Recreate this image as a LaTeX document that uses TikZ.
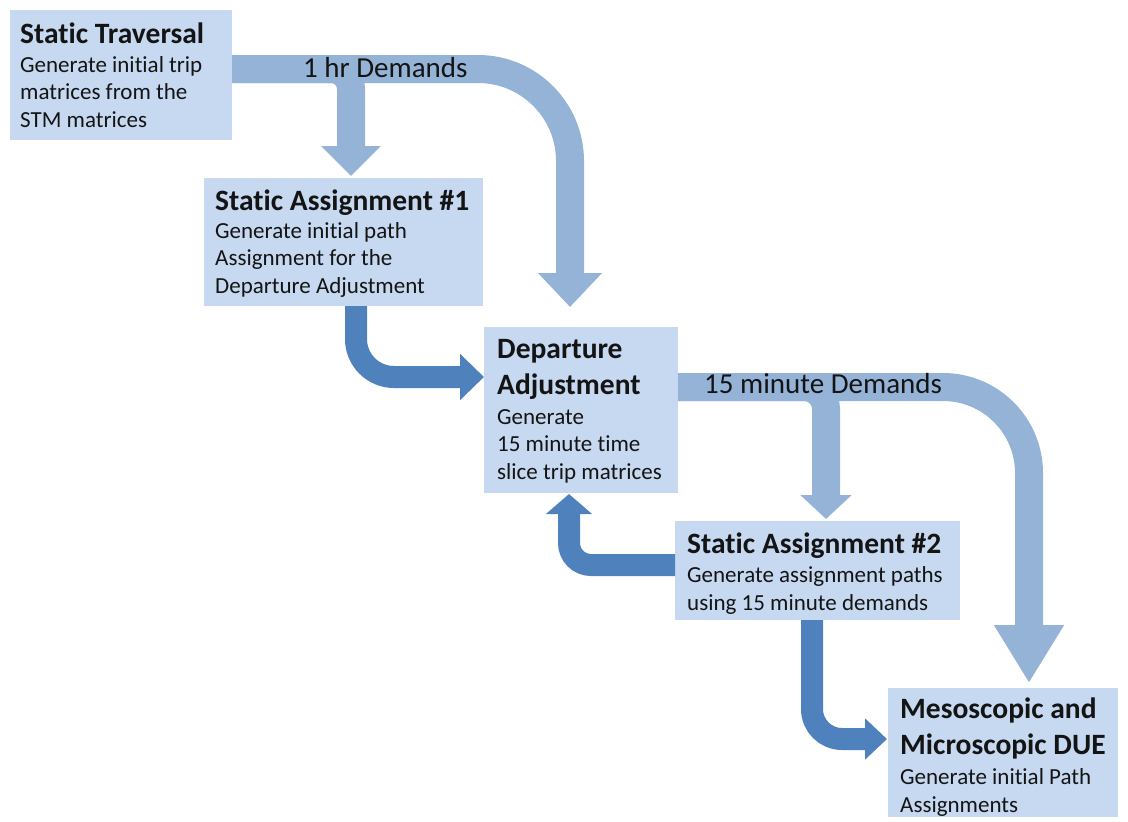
\documentclass[tikz,border=0pt]{standalone}
\usepackage{fontspec}
\setmainfont{Carlito}[Ligatures={NoCommon}]
\usetikzlibrary{arrows.meta}
\definecolor{boxfill}{HTML}{C6D9F1}
\definecolor{lightarr}{HTML}{95B3D7}
\definecolor{darkarr}{HTML}{4F81BD}
\definecolor{txt}{HTML}{141414}
\begin{document}
\begin{tikzpicture}[x=1pt,y=-1pt,
  box/.style={fill=boxfill, draw=none, anchor=north west, inner sep=0pt, outer sep=0pt},
  ttl/.style={anchor=base west, inner sep=0pt, align=left, font=\fontsize{29.5}{36}\selectfont\bfseries, text=txt},
  bdy/.style={anchor=base west, inner sep=0pt, align=left, font=\fontsize{23}{27.5}\selectfont, text=txt},
  lbl/.style={anchor=base west, inner sep=0pt, font=\fontsize{29}{34}\selectfont, text=txt},
  light/.style={draw=lightarr, line width=28pt},
  dark/.style={draw=darkarr, line width=22pt},
]
\useasboundingbox (0,0) rectangle (1128,822);
% boxes
\node[box, minimum width=222pt, minimum height=130pt] (b1) at (10,10) {};
\node[box, minimum width=279pt, minimum height=128pt] (b2) at (204,178) {};
\node[box, minimum width=194pt, minimum height=166pt] (b3) at (484,327) {};
\node[box, minimum width=285pt, minimum height=99pt] (b4) at (675,521) {};
\node[box, minimum width=230pt, minimum height=129pt] (b5) at (888,688) {};
% tip coordinates
\coordinate (h1) at (570,307);
\coordinate (h2) at (351,176);
\coordinate (h3) at (484,377);
\coordinate (h4) at (826,519);
\coordinate (h5) at (1029,683);
\coordinate (h6) at (569,494);
\coordinate (h7) at (887,739);
% light arrows
\draw[light, -{Triangle[width=62pt,length=34pt]}, rounded corners=92pt] ([yshift=6pt]b1.east) -| (h1);
\draw[light, -{Triangle[width=58pt,length=30pt]}, rounded corners=20pt] ([yshift=6pt]b1.east) -| (h2);
\draw[light, -{Triangle[width=66pt,length=58pt]}, rounded corners=86pt] ([yshift=23pt]b3.east) -| (h5);
\draw[light, -{Triangle[width=50pt,length=24pt]}, rounded corners=22pt] ([yshift=23pt]b3.east) -| (h4);
% dark arrows
\draw[dark, -{Triangle[width=45pt,length=24pt]}, rounded corners=38pt] ([xshift=12.5pt]b2.south) |- (h3);
\draw[dark, -{Triangle[width=45pt,length=20pt]}, rounded corners=22pt] ([yshift=5.5pt]b4.west) -| (h6);
\draw[dark, -{Triangle[width=40pt,length=22pt]}, rounded corners=30pt] ([xshift=-5.5pt]b4.south) |- (h7);
% labels
\node[lbl] (l1) at (303,77) {1 hr Demands};
\node[lbl] (l2) at (704,393) {15 minute Demands};
% texts (base anchor = baseline of the last line)
\node[ttl] (t1) at (20,43) {Static Traversal};
\node[bdy] (d1) at (20,127) {Generate initial trip\\matrices from the\\STM matrices};
\node[ttl] (t2) at (215,210) {Static Assignment \#1};
\node[bdy] (d2) at (215,293) {Generate initial path\\Assignment for the\\Departure Adjustment};
\node[ttl] (t3) at (497,394) {Departure\\Adjustment};
\node[bdy] (d3) at (497,479) {Generate\\15 minute time\\slice trip matrices};
\node[ttl] (t4) at (687,553) {Static Assignment \#2};
\node[bdy] (d4) at (687,610) {Generate assignment paths\\using 15 minute demands};
\node[ttl] (t5) at (900,754) {Mesoscopic and\\Microscopic DUE};
\node[bdy] (d5) at (900,812) {Generate initial Path\\Assignments};
\end{tikzpicture}
\end{document}
